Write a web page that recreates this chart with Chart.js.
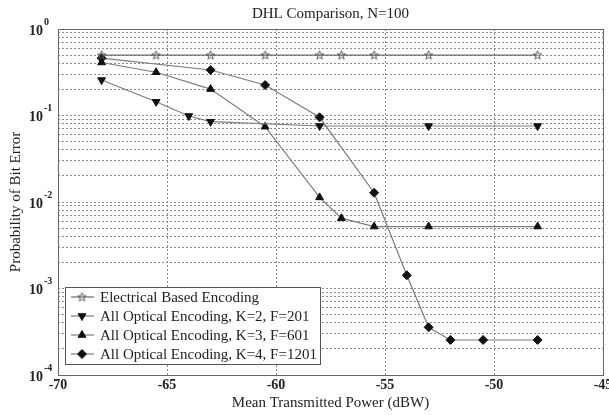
<!DOCTYPE html>
<html><head><meta charset="utf-8">
<script src="https://cdn.jsdelivr.net/npm/chart.js@4.4.0/dist/chart.umd.min.js"></script>
<style>html,body{margin:0;padding:0;background:#fff}</style>
</head><body>
<canvas id="c" width="609" height="415" style="width:609px;height:415px;display:block"></canvas>
<script>
const titleText = "DHL Comparison, N=100";
const xTitle = "Mean Transmitted Power (dBW)";
const yTitle = "Probability of Bit Error";
const xTickValues = [-70, -65, -60, -55, -50, -45];
const yDecadeExponents = [0, -1, -2, -3, -4];
const seriesLabels = [
  "Electrical Based Encoding",
  "All Optical Encoding, K=2, F=201",
  "All Optical Encoding, K=3, F=601",
  "All Optical Encoding, K=4, F=1201"
];
const xElec = [-68, -65.5, -63, -60.5, -58, -57, -55.5, -53, -48];
const yElec = [0.5, 0.5, 0.5, 0.5, 0.5, 0.5, 0.5, 0.5, 0.5];
const xK2 = [-68, -65.5, -64, -63, -58, -53, -48];
const yK2 = [0.257, 0.144, 0.0987, 0.0848, 0.0756, 0.0756, 0.0756];
const xK3 = [-68, -65.5, -63, -60.5, -58, -57, -55.5, -53, -48];
const yK3 = [0.41, 0.316, 0.202, 0.0742, 0.0113, 0.0065, 0.0052, 0.0052, 0.0052];
const xK4 = [-68, -63, -60.5, -58, -55.5, -54, -53, -52, -50.5, -48];
const yK4 = [0.46, 0.336, 0.225, 0.0953, 0.0128, 0.00142, 0.000356, 0.000254, 0.000254, 0.000254];

function zip(xs, ys) { return xs.map((x, i) => ({x: x, y: ys[i]})); }

function makeStar() {
  const c = document.createElement('canvas');
  c.width = 11; c.height = 11;
  const g = c.getContext('2d');
  g.strokeStyle = '#555'; g.lineWidth = 1;
  g.beginPath();
  for (let i = 0; i < 10; i++) {
    const r = i % 2 === 0 ? 4.5 : 1.9;
    const a = -Math.PI / 2 + i * Math.PI / 5;
    const px = 5.5 + r * Math.cos(a), py = 5.8 + r * Math.sin(a);
    if (i === 0) g.moveTo(px, py); else g.lineTo(px, py);
  }
  g.closePath(); g.stroke();
  return c;
}
const starImg = makeStar();

const lineColor = '#7c7c7c';
const markColor = '#111';

const datasets = [
  {label: seriesLabels[0], data: zip(xElec, yElec), pointStyle: starImg, pointRadius: 5, rotation: 0, borderColor: '#6a6a6a'},
  {label: seriesLabels[1], data: zip(xK2, yK2), pointStyle: 'triangle', pointRadius: 4.5, rotation: 180},
  {label: seriesLabels[2], data: zip(xK3, yK3), pointStyle: 'triangle', pointRadius: 4.5, rotation: 0},
  {label: seriesLabels[3], data: zip(xK4, yK4), pointStyle: 'rectRot', pointRadius: 4.5, rotation: 0}
].map(d => Object.assign({
  showLine: true,
  borderColor: lineColor,
  borderWidth: 1.2,
  backgroundColor: markColor,
  pointBackgroundColor: markColor,
  pointBorderColor: markColor,
  pointBorderWidth: 1,
  pointRotation: d.rotation,
  tension: 0,
  fill: false
}, d));

const serif = '"Liberation Serif", "Times New Roman", serif';
const textColor = '#222';

const decorPlugin = {
  id: 'decor',
  afterDraw(chart) {
    const ctx = chart.ctx;
    const a = chart.chartArea;
    const xs = chart.scales.x, ys = chart.scales.y;
    ctx.save();
    ctx.strokeStyle = '#666'; ctx.lineWidth = 1; ctx.setLineDash([]);
    ctx.strokeRect(Math.round(a.left) + 0.5, Math.round(a.top) + 0.5, Math.round(a.right - a.left), Math.round(a.bottom - a.top));
    ctx.fillStyle = textColor;
    ctx.font = '15px ' + serif;
    ctx.textAlign = 'center'; ctx.textBaseline = 'middle';
    ctx.fillText(titleText, (a.left + a.right) / 2, 14);
    ctx.font = 'bold 14px ' + serif;
    xTickValues.forEach(v => {
      ctx.fillText(String(v), xs.getPixelForValue(v), 385);
    });
    ctx.font = '15px ' + serif;
    ctx.fillText(xTitle, (a.left + a.right) / 2, 403);
    yDecadeExponents.forEach(e => {
      const y = ys.getPixelForValue(Math.pow(10, e));
      ctx.font = 'bold 14px ' + serif;
      ctx.textAlign = 'right';
      ctx.fillText('10', 43, y + 2);
      ctx.font = 'bold 10px ' + serif;
      ctx.textAlign = 'left';
      ctx.fillText(String(e), 44, y - 7);
    });
    ctx.save();
    ctx.translate(16, (a.top + a.bottom) / 2);
    ctx.rotate(-Math.PI / 2);
    ctx.font = '15px ' + serif;
    ctx.textAlign = 'center';
    ctx.fillText(yTitle, 0, 0);
    ctx.restore();
    const lx = 65, ly = 287, lw = 255, lh = 77;
    ctx.fillStyle = '#fff';
    ctx.fillRect(lx, ly, lw, lh);
    ctx.strokeStyle = '#555'; ctx.lineWidth = 1;
    ctx.strokeRect(lx + 0.5, ly + 0.5, lw, lh);
    chart.data.datasets.forEach((d, i) => {
      const y = ly + 10 + i * 19;
      ctx.strokeStyle = d.borderColor; ctx.lineWidth = 1.2;
      ctx.beginPath(); ctx.moveTo(lx + 6, y); ctx.lineTo(lx + 29, y); ctx.stroke();
      const cx = lx + 17;
      if (d.pointStyle instanceof HTMLCanvasElement) {
        ctx.drawImage(d.pointStyle, cx - d.pointStyle.width / 2, y - d.pointStyle.height / 2);
      } else if (Chart.helpers && Chart.helpers.drawPoint) {
        ctx.fillStyle = d.pointBackgroundColor; ctx.strokeStyle = d.pointBorderColor; ctx.lineWidth = 1;
        Chart.helpers.drawPoint(ctx, {pointStyle: d.pointStyle, radius: d.pointRadius, rotation: d.pointRotation, borderWidth: 1}, cx, y);
      }
      ctx.fillStyle = textColor;
      ctx.font = '15px ' + serif;
      ctx.textAlign = 'left'; ctx.textBaseline = 'middle';
      ctx.fillText(d.label, lx + 35, y + 1);
    });
    ctx.restore();
  }
};

const yTicks = [];
for (let e = -4; e <= 0; e++) {
  for (let m = 1; m <= 9; m++) {
    const v = m * Math.pow(10, e);
    if (v <= 1) yTicks.push({value: v});
  }
}

new Chart(document.getElementById('c'), {
  type: 'scatter',
  data: {datasets: datasets},
  options: {
    responsive: false,
    animation: false,
    devicePixelRatio: 1,
    layout: {padding: {left: 58, right: 6, top: 29, bottom: 40}},
    plugins: {legend: {display: false}, title: {display: false}, tooltip: {enabled: false}},
    scales: {
      x: {
        type: 'linear', min: -70, max: -45,
        afterBuildTicks: s => { s.ticks = xTickValues.map(v => ({value: v})); },
        ticks: {display: false},
        grid: {color: '#8a8a8a', lineWidth: 1, drawTicks: false},
        border: {display: false, dash: [2, 2]}
      },
      y: {
        type: 'logarithmic', min: 1e-4, max: 1,
        afterBuildTicks: s => { s.ticks = yTicks.map(t => ({value: t.value})); },
        ticks: {display: false},
        grid: {color: '#8a8a8a', lineWidth: 1, drawTicks: false},
        border: {display: false, dash: [2, 2]}
      }
    }
  },
  plugins: [decorPlugin]
});
</script>
</body></html>
